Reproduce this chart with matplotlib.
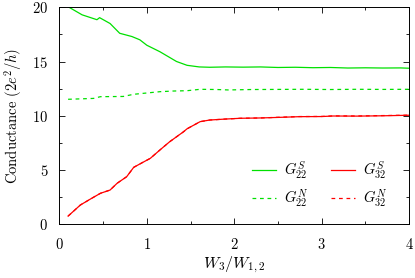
import numpy as np
import matplotlib
matplotlib.use('Agg')
import matplotlib.pyplot as plt
from matplotlib.ticker import MultipleLocator, FuncFormatter

plt.rcParams['font.family'] = 'serif'
plt.rcParams['font.serif'] = ['cmr10', 'DejaVu Serif']
plt.rcParams['mathtext.fontset'] = 'cm'
plt.rcParams['axes.unicode_minus'] = False

# G22 superconducting (solid green)
x_g22s = [0.11, 0.26, 0.43, 0.46, 0.58, 0.69, 0.83, 0.92, 1.0, 1.15, 1.34, 1.46, 1.6, 1.72,
          1.9, 2.1, 2.3, 2.5, 2.7, 2.9, 3.1, 3.3, 3.5, 3.7, 3.9, 4.0]
y_g22s = [20.0, 19.3, 18.85, 19.04, 18.5, 17.6, 17.3, 17.0, 16.5, 15.9, 15.0, 14.65, 14.5, 14.47,
          14.5, 14.48, 14.5, 14.45, 14.47, 14.43, 14.45, 14.4, 14.42, 14.4, 14.41, 14.38]

# G22 normal (dashed green)
x_g22n = [0.1, 0.39, 0.47, 0.73, 0.85, 1.0, 1.15, 1.3, 1.46, 1.61, 1.8, 1.93, 2.2, 2.5, 2.8, 3.1,
          3.4, 3.7, 4.0]
y_g22n = [11.52, 11.6, 11.76, 11.78, 11.98, 12.1, 12.22, 12.28, 12.31, 12.44, 12.42, 12.38, 12.42,
          12.43, 12.44, 12.42, 12.44, 12.43, 12.44]

# G32 superconducting (solid red)
x_g32s = [0.1, 0.24, 0.37, 0.47, 0.58, 0.66, 0.77, 0.85, 0.92, 1.04, 1.15, 1.26, 1.42, 1.46,
          1.61, 1.72, 1.9, 2.07, 2.3, 2.5, 2.75, 3.0, 3.13, 3.4, 3.7, 4.0]
y_g32s = [0.76, 1.78, 2.4, 2.86, 3.16, 3.78, 4.39, 5.25, 5.56, 6.08, 6.85, 7.6, 8.53, 8.8,
          9.46, 9.61, 9.7, 9.77, 9.8, 9.85, 9.92, 9.93, 9.98, 9.97, 10.0, 10.05]

# G32 normal (dashed red), nearly identical
x_g32n = x_g32s
y_g32n = [0.76, 1.78, 2.4, 2.86, 3.16, 3.78, 4.39, 5.25, 5.56, 6.08, 6.85, 7.6, 8.53, 8.8,
          9.46, 9.61, 9.7, 9.77, 9.8, 9.86, 9.93, 9.94, 9.99, 9.98, 10.02, 10.06]

green = '#00e000'
red = '#ff0000'

fig = plt.figure(figsize=(4.15, 2.78), dpi=100)
ax = fig.add_axes([0.143, 0.193, 0.843, 0.781])

ax.plot(x_g22s, y_g22s, color=green, lw=0.9, label=r'$G_{22}^S$')
ax.plot(x_g22n, y_g22n, color=green, lw=0.9, ls=(0, (3, 3)), label=r'$G_{22}^N$')
ax.plot(x_g32s, y_g32s, color=red, lw=0.9, label=r'$G_{32}^S$')
ax.plot(x_g32n, y_g32n, color=red, lw=0.9, ls=(0, (3, 3)), label=r'$G_{32}^N$')

ax.set_xlim(0, 4)
ax.set_ylim(0, 20)
ax.xaxis.set_major_locator(MultipleLocator(1))
ax.xaxis.set_minor_locator(MultipleLocator(0.5))
ax.yaxis.set_major_locator(MultipleLocator(5))
ax.yaxis.set_minor_locator(MultipleLocator(2.5))
fmt = FuncFormatter(lambda v, p: r'$%g$' % v)
ax.xaxis.set_major_formatter(fmt)
ax.yaxis.set_major_formatter(fmt)
ax.tick_params(which='both', direction='in', top=True, right=True, labelsize=10.5)
ax.tick_params(which='major', length=4, width=0.6)
ax.tick_params(which='minor', length=2.5, width=0.6)
ax.tick_params(axis='x', pad=9)
ax.tick_params(axis='y', pad=8)
for s in ax.spines.values():
    s.set_linewidth(0.7)

ax.set_xlabel(r'$W_3/W_{1,2}$', fontsize=11.5, labelpad=2)
ax.set_ylabel(r'Conductance $(2e^2/h)$', fontsize=10.5, labelpad=6)

h, l = ax.get_legend_handles_labels()
ax.legend([h[0], h[1], h[2], h[3]], [l[0], l[1], l[2], l[3]], ncol=2, frameon=False,
          loc='lower right', bbox_to_anchor=(0.975, 0.01), fontsize=10.5,
          handlelength=1.6, columnspacing=1.6, labelspacing=0.4, handletextpad=0.55)

fig.savefig('out.png', dpi=100)
